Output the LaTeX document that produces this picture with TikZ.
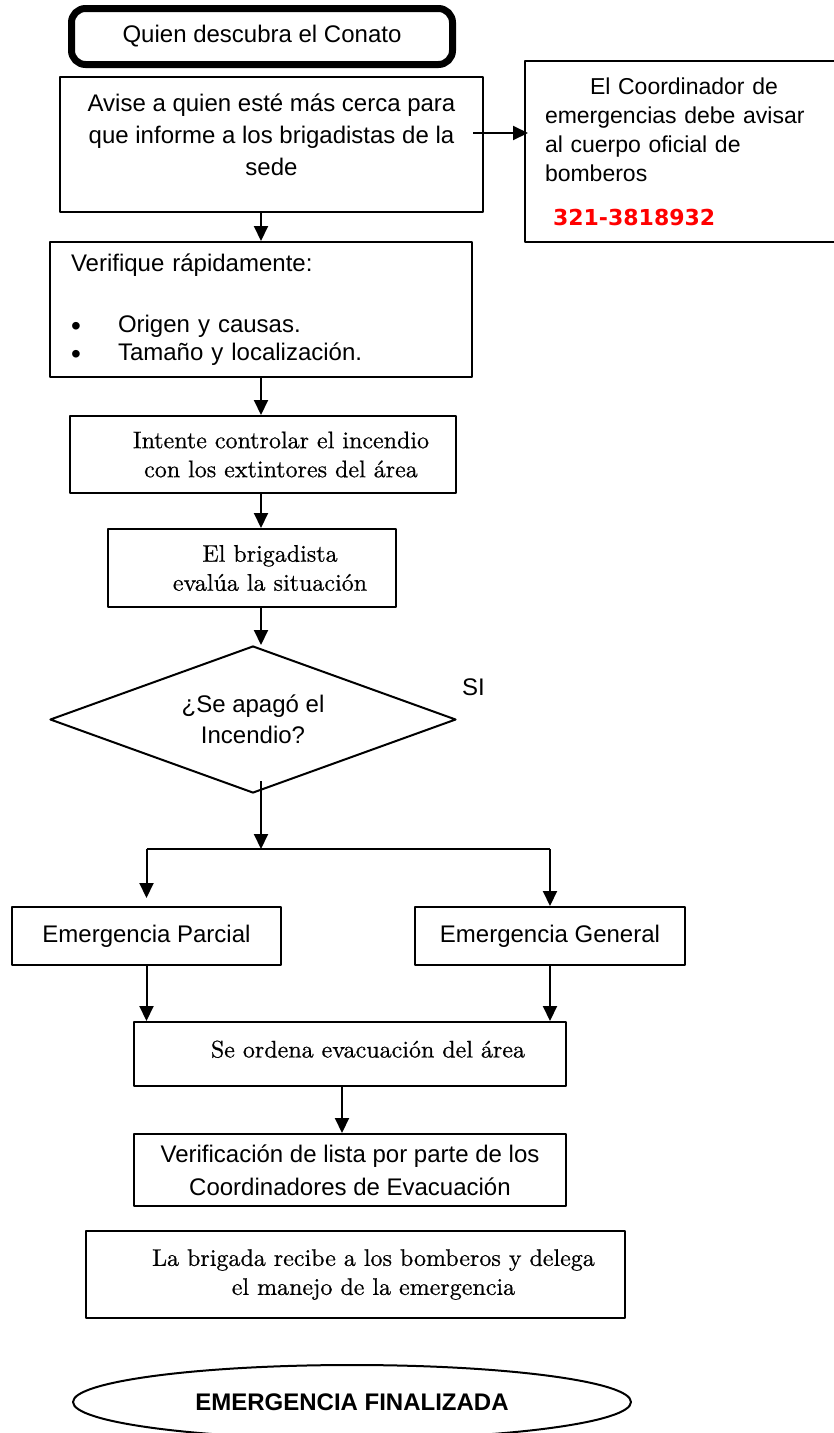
\documentclass[tikz,border=0pt]{standalone}
\usepackage{fontspec}
\setsansfont{Liberation Sans}
\newfontfamily\dejavu{DejaVu Sans}
\newfontfamily\serifa{lmroman10-regular.otf}[FakeBold=0.6]
\usetikzlibrary{shapes.geometric,arrows.meta}
\begin{document}
\begin{tikzpicture}[
		x=1pt,y=-1pt,line join=round,>={Triangle[length=15pt,width=14pt]},
		caja/.style={rectangle,draw=black,line width=2pt,inner sep=0pt,align=center,font=\sffamily\fontsize{24}{32}\selectfont},
		cajaserif/.style={caja,font=\serifa\fontsize{24}{29}\selectfont},
		rombo/.style={diamond,aspect=2.76,draw=black,line width=2pt,inner sep=0pt,align=center,font=\sffamily\fontsize{24}{31}\selectfont},
		flecha/.style={->,line width=2pt}]
		\useasboundingbox (0,0) rectangle (834,1433);
		\coordinate (eje) at (261,0);
		\node at (262,36.5) (inicio) [caja,rounded corners=14pt,line width=7pt,minimum width=381pt,minimum height=56pt] {Quien descubra el Conato};
		\node at (271.5,144.5) (avise) [caja,minimum width=423pt,minimum height=135pt] {Avise a quien esté más cerca para\\que informe a los brigadistas de la\\sede\rule[-20pt]{0pt}{20pt}};
		\node at (682.5,151.5) (coordinador) [caja,align=left,text width=275pt,inner xsep=20pt,minimum height=181pt,font=\sffamily\fontsize{23}{29}\selectfont] {\hspace*{45pt}El Coordinador de\\emergencias debe avisar\\al cuerpo oficial de\\bomberos\\[15pt]\hspace*{8pt}{\dejavu\bfseries\fontsize{22}{29}\selectfont\color{red}321-3818932}};
		\node at (261,309.5) (verifique) [caja,align=left,text width=380pt,inner xsep=21pt,minimum height=135pt,font=\sffamily\fontsize{24}{28}\selectfont] {Verifique rápidamente:\\[33pt]\makebox[47pt][l]{\raisebox{-3pt}{\fontsize{28}{28}\selectfont\textbullet}}Origen y causas.\\\makebox[47pt][l]{\raisebox{-3pt}{\fontsize{28}{28}\selectfont\textbullet}}Tamaño y localización.};
		\node at (263,454.5) (intente) [cajaserif,minimum width=386pt,minimum height=77pt] {\hspace*{36pt}Intente controlar el incendio\\\hspace*{36pt}con los extintores del área};
		\node at (252,568) (brigadista) [cajaserif,minimum width=288pt,minimum height=78pt] {\hspace*{36pt}El brigadista\\\hspace*{36pt}evalúa la situación};
		\node at (253,719.5) (decision) [rombo,minimum width=406pt,minimum height=147pt] {¿Se apagó el\\Incendio?};
		\node at (473.5,687) (si) [font=\sffamily\fontsize{24}{28}\selectfont] {SI};
		\coordinate (bifurca) at (261,849);
		\node at (146.5,936) (parcial) [caja,minimum width=269pt,minimum height=58pt] {Emergencia Parcial};
		\node at (550,936) (general) [caja,minimum width=270pt,minimum height=58pt] {Emergencia General};
		\node at (350,1054) (ordena) [cajaserif,minimum width=432pt,minimum height=64pt] {\hspace*{36pt}Se ordena evacuación del área\rule[-10pt]{0pt}{10pt}};
		\node at (350,1170) (verificacion) [caja,minimum width=432pt,minimum height=72pt,font=\sffamily\fontsize{24}{33}\selectfont] {Verificación de lista por parte de los\\Coordinadores de Evacuación};
		\node at (355.5,1274.5) (brigada) [cajaserif,minimum width=539pt,minimum height=87pt] {\hspace*{36pt}La brigada recibe a los bomberos y delega\\\hspace*{36pt}el manejo de la emergencia};
		\node at (352,1402) (fin) [ellipse,draw=black,line width=2pt,minimum width=558pt,minimum height=74pt,inner sep=0pt,font=\sffamily\bfseries\fontsize{24}{28}\selectfont] {EMERGENCIA FINALIZADA};
		% conectores
		\coordinate (aviso) at (473,133);
		\draw[flecha,shorten >=-4pt] (aviso) -- (aviso -| coordinador.west);
		\draw[flecha] (avise.south -| eje) -- (verifique.north -| eje);
		\draw[flecha] (verifique.south -| eje) -- (intente.north -| eje);
		\draw[flecha] (intente.south -| eje) -- (brigadista.north -| eje);
		\draw[flecha] (brigadista.south -| eje) -- (decision.north -| eje);
		\draw[flecha,shorten <=-13pt] (decision.south -| eje) -- (bifurca);
		\draw[line width=2pt] (bifurca -| parcial) -- (bifurca -| general);
		\draw[flecha] (bifurca -| parcial) -- ([yshift=8pt]parcial.north);
		\draw[flecha] (bifurca -| general) -- (general.north);
		\draw[flecha] (parcial.south) -- (parcial.south |- ordena.north);
		\draw[flecha] (general.south) -- (general.south |- ordena.north);
		\draw[flecha] ([xshift=-8pt]ordena.south) -- ([xshift=-8pt]verificacion.north);
	\end{tikzpicture}
\end{document}
